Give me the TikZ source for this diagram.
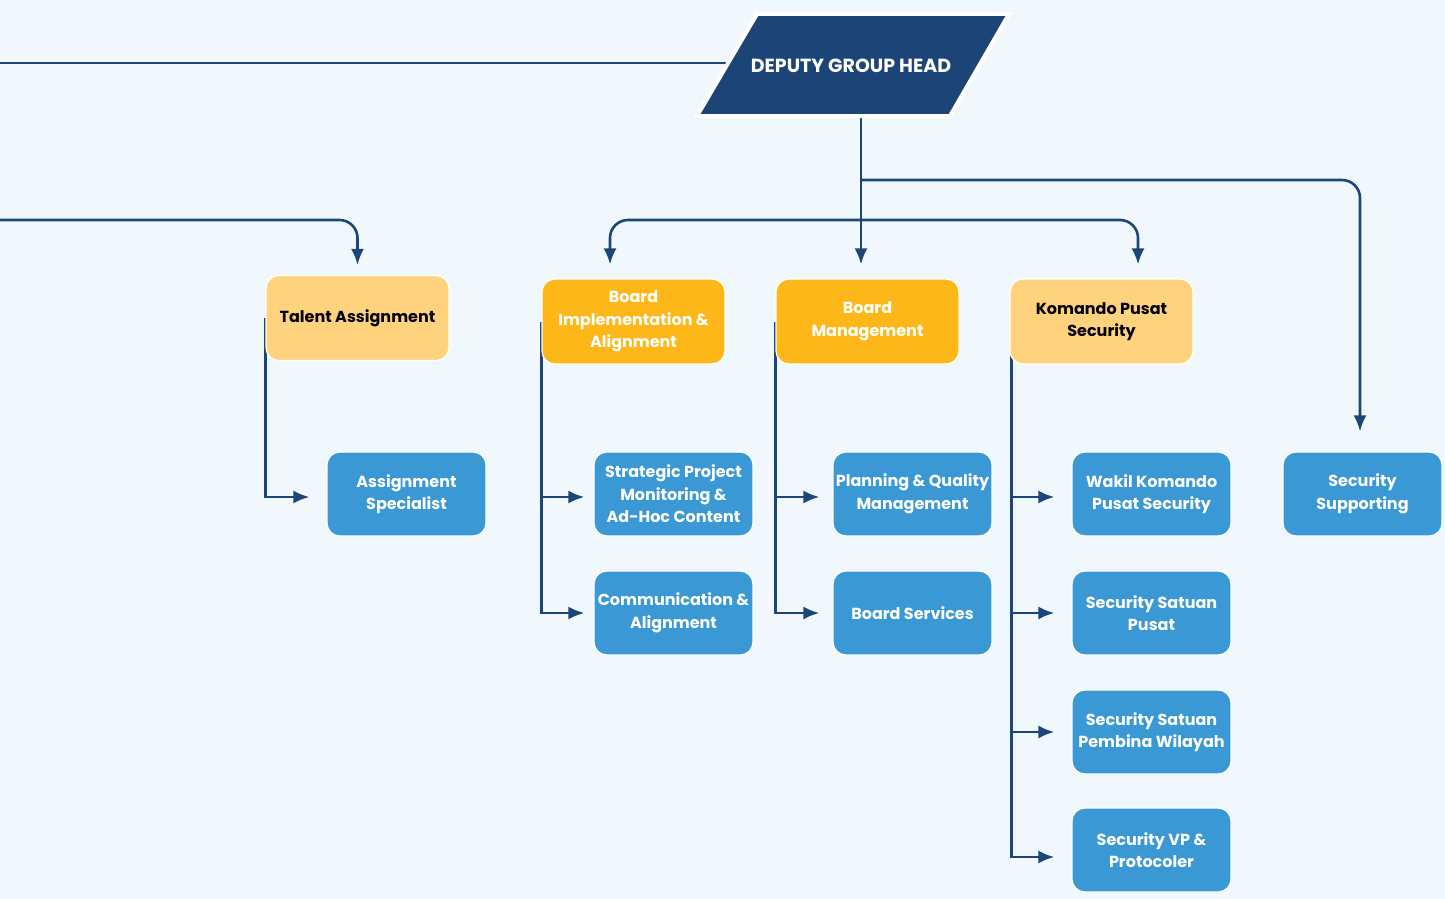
\documentclass[tikz,border=0pt]{standalone}
\usepackage{fontspec}
\setmainfont{Poppins}
\usetikzlibrary{arrows.meta}
\definecolor{paper}{HTML}{F0F8FE}
\definecolor{navy}{HTML}{1D4577}
\definecolor{headfill}{HTML}{1C4476}
\definecolor{gold}{HTML}{FDB719}
\definecolor{peach}{HTML}{FFD27E}
\definecolor{sky}{HTML}{3A98D4}
\pgfdeclarelayer{paperlayer}
\pgfdeclarelayer{wires}
\pgfsetlayers{paperlayer,wires,main}
\tikzset{
  box/.style={rounded corners=13pt, draw=white, line width=1.2pt, align=center,
    inner sep=0pt, font=\fontsize{16}{22.5}\selectfont\bfseries},
  lead/.style={box, minimum width=183pt, minimum height=85pt, fill=gold, text=white},
  leadlt/.style={lead, fill=peach, text=black},
  unit/.style={box, minimum width=159pt, minimum height=84pt, fill=sky, text=white},
  wire/.style={draw=navy, line width=2.6pt, rounded corners=18pt},
  arr/.style={wire, -{Latex[length=16pt,width=13pt]}, shorten >=#1},
  arr/.default=14pt,
  tap/.style={arr=#1, sharp corners}
}
\begin{document}
\begin{tikzpicture}[x=1pt,y=-1pt]
\begin{pgfonlayer}{paperlayer}
  \fill[paper] (0,0) rectangle (1445,899);
\end{pgfonlayer}
\useasboundingbox (0,0) rectangle (1445,899);

% head of the group
\filldraw[fill=headfill, draw=white, line width=4pt, line join=miter]
  (757,14) -- (1009,14) -- (950,116) -- (697,116) -- cycle;
\node[text=white, font=\fontsize{19}{22}\selectfont\bfseries] (dgh) at (851,66) {DEPUTY GROUP HEAD};

% boards
\node[leadlt] (ta)  at (357.5,318)   {Talent Assignment};
\node[lead]   (bia) at (633.5,321.5) {Board\\Implementation \&\\Alignment};
\node[lead]   (bm)  at (867.5,321.5) {Board\\Management};
\node[leadlt] (kps) at (1101.5,321.5) {Komando Pusat\\Security};

% units
\node[unit] (as)  at (406.5,494) {Assignment\\Specialist};
\node[unit] (sp)  at (673.5,494) {Strategic Project\\Monitoring \&\\Ad-Hoc Content};
\node[unit] (ca)  at (673.5,613) {Communication \&\\Alignment};
\node[unit] (pq)  at (912.5,494) {Planning \& Quality\\Management};
\node[unit] (bs)  at (912.5,613) {Board Services};
\node[unit] (wk)  at (1151.5,494) {Wakil Komando\\Pusat Security};
\node[unit] (ssp) at (1151.5,613) {Security Satuan\\Pusat};
\node[unit] (spw) at (1151.5,732) {Security Satuan\\Pembina Wilayah};
\node[unit] (vp)  at (1151.5,850) {Security VP \&\\Protocoler};
\node[unit] (ss)  at (1362.5,494) {Security\\Supporting};

% connectors
\coordinate (in1)  at (0,63);
\coordinate (in2)  at (0,220);
\coordinate (trunk) at (861,110);
\coordinate (j180) at (861,180);
\coordinate (j220) at (861,220);

\begin{pgfonlayer}{wires}
  \draw[wire] (in1) -- (in1 -| dgh.center);
  \draw[arr=10pt] (in2) -| (ta.north);
  \draw[arr] (trunk) -- (trunk |- bm.north);
  \draw[arr=20pt] (j180) -| ([xshift=-2.5pt]ss.north);
  \draw[arr] (j220) -| ([xshift=-23.5pt]bia.north);
  \draw[arr] (j220) -| ([xshift=36.5pt]kps.north);

  \draw[tap=17pt] (ta.west) |- ([yshift=-3pt]as.west);
  \draw[tap=9pt]  (bia.west) |- ([yshift=-3pt]sp.west);
  \draw[tap=9pt]  (bia.west) |- (ca.west);
  \draw[tap=13pt] (bm.west) |- ([yshift=-3pt]pq.west);
  \draw[tap=13pt] (bm.west) |- (bs.west);
  \draw[tap=17pt] ([xshift=2pt]kps.west) |- ([yshift=-3pt]wk.west);
  \draw[tap=17pt] ([xshift=2pt]kps.west) |- (ssp.west);
  \draw[tap=17pt] ([xshift=2pt]kps.west) |- (spw.west);
  \draw[tap=17pt] ([xshift=2pt]kps.west) |- ([yshift=-7pt]vp.west);
\end{pgfonlayer}
\end{tikzpicture}
\end{document}
